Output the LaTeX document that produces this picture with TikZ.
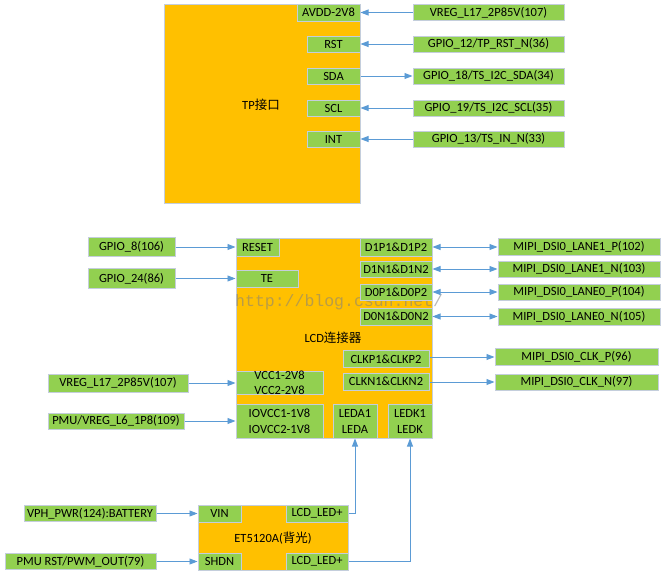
\documentclass[tikz,border=0pt]{standalone}
\usepackage{fontspec}
\setmainfont{Carlito}
\newfontfamily\cjk{Noto Sans CJK SC}
\newfontfamily\wmfont{Liberation Mono}
\usetikzlibrary{arrows.meta}
\definecolor{orng}{RGB}{255,192,0}
\definecolor{grn}{RGB}{146,208,80}
\definecolor{bord}{RGB}{196,206,220}
\definecolor{arr}{RGB}{91,155,213}
\tikzset{
  blk/.style={fill=orng,draw=bord,line width=1pt,inner sep=0pt},
  gbox/.style={fill=grn,draw=bord,line width=1pt,inner sep=0pt,font=\fontsize{12.5}{14}\selectfont,align=center},
  lbl/.style={inner sep=0pt,font=\fontsize{12.5}{14}\selectfont},
  conn/.style={draw=arr,line width=0.9pt,-{Triangle[length=8pt,width=6pt]}},
  bconn/.style={draw=arr,line width=0.9pt,{Triangle[length=8pt,width=6pt]}-{Triangle[length=8pt,width=6pt]}},
}
\begin{document}
\begin{tikzpicture}[x=1pt,y=-1pt]
\useasboundingbox (0,0) rectangle (662,581);
% ---------- TP block ----------
\node[blk,minimum width=196pt,minimum height=199pt] (tp) at (262,103.5) {};
\node[lbl] (tplbl) at (261,105) {TP{\cjk 接口}};
\node[gbox,minimum width=63pt,minimum height=17pt] (avdd) at (328.5,12.5) {AVDD-2V8};
\node[gbox,minimum width=53pt,minimum height=16pt] (rst) at (333.5,44) {RST};
\node[gbox,minimum width=53pt,minimum height=16pt] (sda) at (333.5,76) {SDA};
\node[gbox,minimum width=53pt,minimum height=16pt] (scl) at (333.5,108) {SCL};
\node[gbox,minimum width=53pt,minimum height=16pt] (int) at (333.5,139) {INT};
\node[gbox,minimum width=151pt,minimum height=16pt] (vregtp) at (488.5,12.5) {VREG\_L17\_2P85V(107)};
\node[gbox,minimum width=151pt,minimum height=16pt] (g12) at (488.5,44) {GPIO\_12/TP\_RST\_N(36)};
\node[gbox,minimum width=151pt,minimum height=16pt] (g18) at (488.5,76) {GPIO\_18/TS\_I2C\_SDA(34)};
\node[gbox,minimum width=151pt,minimum height=16pt] (g19) at (488.5,108) {GPIO\_19/TS\_I2C\_SCL(35)};
\node[gbox,minimum width=151pt,minimum height=16pt] (g13) at (488.5,139) {GPIO\_13/TS\_IN\_N(33)};
\draw[conn] (vregtp) -- (avdd);
\draw[conn] (g12) -- (rst);
\draw[conn] (sda) -- (g18);
\draw[conn] (g19) -- (scl);
\draw[conn] (g13) -- (int);
% ---------- LCD block ----------
\node[blk,minimum width=196pt,minimum height=200pt] (lcd) at (334,338) {};
\node[lbl] (lcdlbl) at (333,338) {LCD{\cjk 连接器}};
\node[text=gray,opacity=0.55,inner sep=0pt,font=\wmfont\fontsize{16.5}{18}\selectfont,anchor=base west] (wm) at (235,306) {http://blog.csdn.net/};
\node[gbox,minimum width=43pt,minimum height=18pt] (reset) at (257.5,247) {RESET};
\node[gbox,minimum width=62pt,minimum height=17pt] (te) at (267,278.5) {TE};
\node[gbox,minimum width=72pt,minimum height=18pt] (d1p) at (396,247) {D1P1\&D1P2};
\node[gbox,minimum width=72pt,minimum height=16pt] (d1n) at (396,269) {D1N1\&D1N2};
\node[gbox,minimum width=72pt,minimum height=16pt] (d0p) at (396,292) {D0P1\&D0P2};
\node[gbox,minimum width=72pt,minimum height=17pt] (d0n) at (396,316.5) {D0N1\&D0N2};
\node[gbox,minimum width=86pt,minimum height=17pt] (clkp) at (386,359) {CLKP1\&CLKP2};
\node[gbox,minimum width=86pt,minimum height=17pt] (clkn) at (386,381.5) {CLKN1\&CLKN2};
\node[gbox,minimum width=87pt,minimum height=20pt,font=\fontsize{12.5}{15}\selectfont] (vcc) at (279.5,383) {VCC1-2V8\\VCC2-2V8};
\node[gbox,minimum width=87pt,minimum height=34pt,font=\fontsize{12.5}{16}\selectfont] (iovcc) at (279.5,421) {IOVCC1-1V8\\IOVCC2-1V8};
\node[gbox,minimum width=44pt,minimum height=34pt,font=\fontsize{12.5}{16}\selectfont] (leda) at (355,421) {LEDA1\\LEDA};
\node[gbox,minimum width=44pt,minimum height=34pt,font=\fontsize{12.5}{16}\selectfont] (ledk) at (410,421) {LEDK1\\LEDK};
\node[gbox,minimum width=87pt,minimum height=19pt] (g8) at (131.5,247) {GPIO\_8(106)};
\node[gbox,minimum width=87pt,minimum height=20pt] (g24) at (131.5,278.5) {GPIO\_24(86)};
\node[gbox,minimum width=140pt,minimum height=18pt] (vreglcd) at (118,383) {VREG\_L17\_2P85V(107)};
\node[gbox,minimum width=136pt,minimum height=16pt] (pmuv) at (116,421) {PMU/VREG\_L6\_1P8(109)};
\node[gbox,minimum width=162pt,minimum height=17pt] (l1p) at (579,247) {MIPI\_DSI0\_LANE1\_P(102)};
\node[gbox,minimum width=162pt,minimum height=16pt] (l1n) at (579,269) {MIPI\_DSI0\_LANE1\_N(103)};
\node[gbox,minimum width=162pt,minimum height=16pt] (l0p) at (579,292) {MIPI\_DSI0\_LANE0\_P(104)};
\node[gbox,minimum width=162pt,minimum height=17pt] (l0n) at (579,316.5) {MIPI\_DSI0\_LANE0\_N(105)};
\node[gbox,minimum width=163pt,minimum height=17pt] (ckp) at (576.5,357) {MIPI\_DSI0\_CLK\_P(96)};
\node[gbox,minimum width=163pt,minimum height=16pt] (ckn) at (576.5,382) {MIPI\_DSI0\_CLK\_N(97)};
\draw[conn] (g8) -- (reset);
\draw[conn] (g24) -- (te);
\draw[conn] (vreglcd) -- (vcc);
\draw[conn] (pmuv) -- (iovcc);
\draw[bconn] (d1p) -- (l1p);
\draw[bconn] (d1n) -- (l1n);
\draw[bconn] (d0p) -- (l0p);
\draw[bconn] (d0n) -- (l0n);
\draw[conn] (clkp.east |- ckp) -- (ckp);
\draw[conn] (clkn.east |- ckn) -- (ckn);
% ---------- ET5120A block ----------
\node[blk,minimum width=150pt,minimum height=65pt] (et) at (273,537.5) {};
\node[lbl] (etlbl) at (273,538) {ET5120A({\cjk 背光})};
\node[gbox,minimum width=43pt,minimum height=17pt] (vin) at (219.5,513.5) {VIN};
\node[gbox,minimum width=62pt,minimum height=17pt] (ledt) at (317,513.5) {LCD\_LED+};
\node[gbox,minimum width=43pt,minimum height=17pt] (shdn) at (219.5,561.5) {SHDN};
\node[gbox,minimum width=62pt,minimum height=17pt] (ledb) at (317,561.5) {LCD\_LED+};
\node[gbox,minimum width=132pt,minimum height=16pt] (vph) at (90,513.5) {VPH\_PWR(124):BATTERY};
\node[gbox,minimum width=151pt,minimum height=16pt] (pmur) at (80.5,561.5) {PMU RST/PWM\_OUT(79)};
\draw[conn] (vph) -- (vin);
\draw[conn] (pmur) -- (shdn);
\draw[conn] (ledt.east) -| (leda.south);
\draw[conn] (ledb.east) -| (ledk.south);
\end{tikzpicture}
\end{document}
